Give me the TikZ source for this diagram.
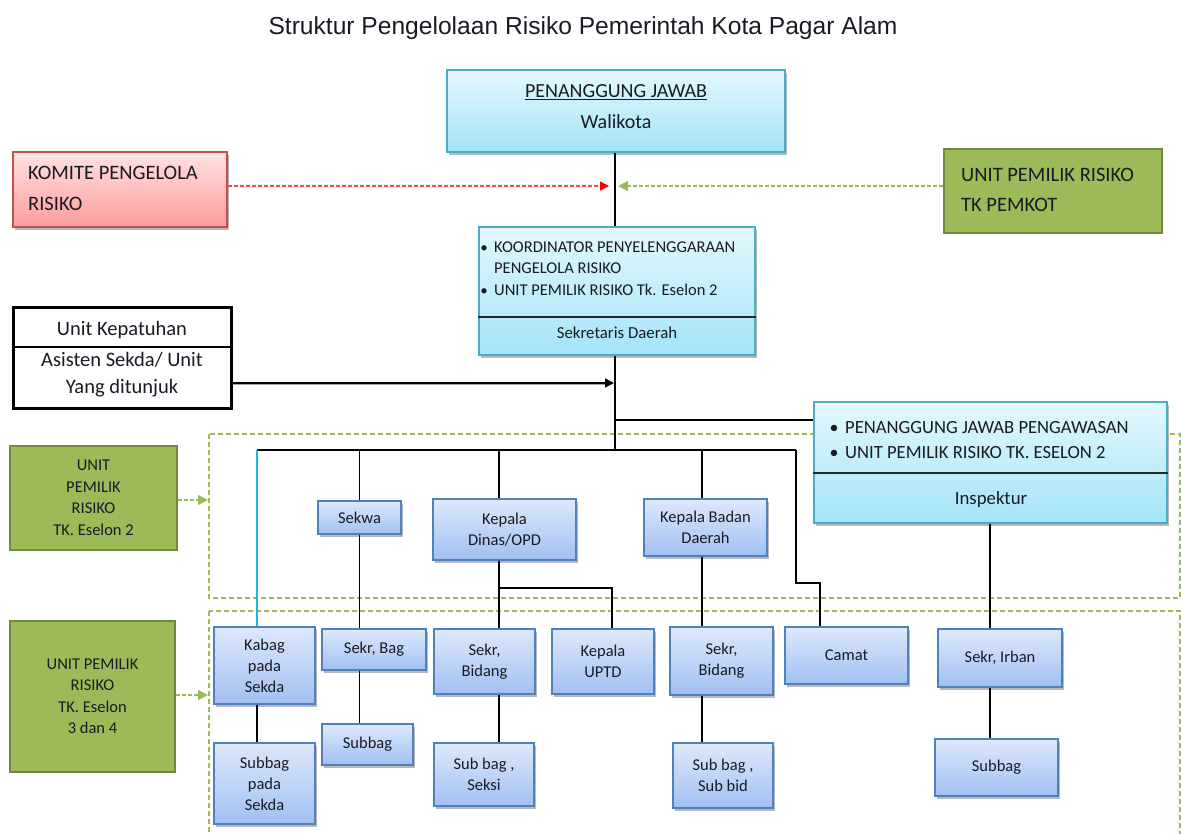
\documentclass[tikz,border=0pt]{standalone}
\usepackage{fontspec}
\setmainfont{Carlito}
\newfontfamily\titlefont{Liberation Sans}
\usetikzlibrary{arrows.meta,shadows}
\definecolor{bluetop}{HTML}{DDE9FC}
\definecolor{bluebot}{HTML}{A2BFF2}
\definecolor{blueline}{HTML}{4F81BD}
\definecolor{cyantop}{HTML}{E4F8FD}
\definecolor{cyanbot}{HTML}{A3E4F7}
\definecolor{cyanline}{HTML}{4BACC6}
\definecolor{redtop}{HTML}{FFE2E2}
\definecolor{redbot}{HTML}{FF9C9C}
\definecolor{redline}{HTML}{C0504D}
\definecolor{grfill}{HTML}{9BBB59}
\definecolor{grline}{HTML}{71893F}
\definecolor{grdash}{HTML}{9BBB59}
\definecolor{txt}{HTML}{1A1A24}
\definecolor{cyanconn}{HTML}{1FB4EE}
\newcommand\mybox[7]{\node[#2, minimum width={(#5-#3)*1pt}, minimum height={(#6-#4)*1pt}] (#1) at ({(#3+#5)/2},{(#4+#6)/2}) {#7};}
\begin{document}
\begin{tikzpicture}[x=1pt,y=-1pt,
  shadowed/.style={drop shadow={shadow xshift=2pt,shadow yshift=-2.5pt,opacity=0.28,fill=black}},
  bluebox/.style={draw=blueline, line width=1.4pt, top color=bluetop, bottom color=bluebot, shadowed, inner sep=0pt, align=center, text=txt, font=\fontsize{16.5}{21}\selectfont},
  cyanbox/.style={draw=cyanline, line width=1.4pt, top color=cyantop, bottom color=cyanbot, shadowed, inner sep=0pt},
  redbox/.style={draw=redline, line width=1.4pt, top color=redtop, bottom color=redbot, shadowed, inner sep=0pt},
  greenbox/.style={draw=grline, line width=2pt, fill=grfill, inner sep=0pt, align=center, text=txt, font=\fontsize{16.5}{21.5}\selectfont},
  plainbox/.style={draw=black, line width=3pt, fill=white, inner sep=0pt},
  lbl/.style={inner sep=0pt, text=txt},
  conn/.style={draw=black, line width=1.2pt},
  divider/.style={draw=black!85, line width=1.5pt},
  zone/.style={draw=grdash, line width=1.4pt, dash pattern=on 5pt off 3pt},
  redarrow/.style={draw={rgb,255:red,255;green,70;blue,70}, line width=1.4pt, dash pattern=on 4pt off 2pt, -{Triangle[length=9pt,width=9pt,fill=red,color=red]}},
  greenarrow/.style={draw=grdash, line width=1.4pt, dash pattern=on 4pt off 2pt, -{Triangle[length=10pt,width=10pt]}},
  blackarrow/.style={draw=black, line width=1.5pt, -{Triangle[length=9pt,width=9pt]}}
]
\useasboundingbox (0,0) rectangle (1181,833);

% title
\node[lbl, anchor=mid, font=\titlefont\fontsize{24.6}{28}\selectfont] (title) at (583,32) {Struktur Pengelolaan Risiko Pemerintah Kota Pagar Alam};

% green zones
\draw[zone] (209,434) rectangle (1180,598);
\draw[zone] (209,611) rectangle (1180,838);

% top boxes
\mybox{walikota}{cyanbox}{447}{70}{785}{152}{}
\node[lbl, anchor=mid, font=\fontsize{20}{24}\selectfont] (wk1) at (616,95) {\underline{PENANGGUNG JAWAB}};
\node[lbl, anchor=mid, font=\fontsize{20}{24}\selectfont] (wk2) at (616,126) {Walikota};

\mybox{komite}{redbox}{13}{152}{227}{227}{}
\node[lbl, anchor=mid west, font=\fontsize{20.5}{24}\selectfont] (km1) at (28,177) {KOMITE PENGELOLA};
\node[lbl, anchor=mid west, font=\fontsize{20.5}{24}\selectfont] (km2) at (28,208) {RISIKO};

\mybox{pemkot}{greenbox}{944}{149}{1162}{233}{}
\node[lbl, anchor=mid west, font=\fontsize{20.5}{24}\selectfont] (pk1) at (961,179) {UNIT PEMILIK RISIKO};
\node[lbl, anchor=mid west, font=\fontsize{20.5}{24}\selectfont] (pk2) at (961,209) {TK PEMKOT};

\mybox{koord}{cyanbox}{479}{227}{755}{355}{}
\draw[divider] (koord.west |- 0,317) -- (koord.east |- 0,317);
\node[lbl, anchor=mid, font=\fontsize{15}{18}\selectfont] (kb1) at (484,250) {•};
\node[lbl, anchor=mid west, font=\fontsize{16.5}{18}\selectfont] (kt1) at (494,250.5) {KOORDINATOR PENYELENGGARAAN};
\node[lbl, anchor=mid west, font=\fontsize{16.5}{18}\selectfont] (kt2) at (494,271.5) {PENGELOLA RISIKO};
\node[lbl, anchor=mid, font=\fontsize{15}{18}\selectfont] (kb2) at (484,293) {•};
\node[lbl, anchor=mid west, font=\fontsize{16.5}{18}\selectfont] (kt3) at (494,293.5) {UNIT PEMILIK RISIKO Tk. Eselon 2};
\node[lbl, anchor=mid, font=\fontsize{16.8}{18}\selectfont] (kt4) at (617,336) {Sekretaris Daerah};

\mybox{kepatuhan}{plainbox}{13}{307}{231}{408}{}
\draw[line width=1.5pt] (kepatuhan.west |- 0,347) -- (kepatuhan.east |- 0,347);
\node[lbl, anchor=mid, font=\fontsize{20.5}{24}\selectfont] (kp1) at (122,333) {Unit Kepatuhan};
\node[lbl, anchor=mid, font=\fontsize{20.5}{24}\selectfont] (kp2) at (122,364) {Asisten Sekda/ Unit};
\node[lbl, anchor=mid, font=\fontsize{20.5}{24}\selectfont] (kp3) at (122,391) {Yang ditunjuk};

\mybox{inspektur}{cyanbox}{814}{402}{1167}{523}{}
\draw[divider] (inspektur.west |- 0,473) -- (inspektur.east |- 0,473);
\node[lbl, anchor=mid, font=\fontsize{18}{20}\selectfont] (ib1) at (834,431) {•};
\node[lbl, anchor=mid west, font=\fontsize{18.6}{20}\selectfont] (it1) at (845,431) {PENANGGUNG JAWAB PENGAWASAN};
\node[lbl, anchor=mid, font=\fontsize{18}{20}\selectfont] (ib2) at (834,456) {•};
\node[lbl, anchor=mid west, font=\fontsize{18.6}{20}\selectfont] (it2) at (845,456) {UNIT PEMILIK RISIKO TK. ESELON 2};
\node[lbl, anchor=mid, font=\fontsize{18.8}{20}\selectfont] (it3) at (991,502) {Inspektur};

% left green labels
\mybox{eselon2}{greenbox}{10}{446}{177}{550}{UNIT\\PEMILIK\\RISIKO\\TK. Eselon 2}
\mybox{eselon34}{greenbox}{10}{621}{175}{772}{UNIT PEMILIK\\RISIKO\\TK. Eselon\\3 dan 4}

% blue boxes
\mybox{sekwa}{bluebox}{318}{501}{401}{534}{Sekwa}
\mybox{kadin}{bluebox}{433}{499}{576}{560}{Kepala\\Dinas/OPD}
\mybox{kabadan}{bluebox}{644}{499}{767}{556}{Kepala Badan\\Daerah}
\mybox{kabag}{bluebox}{214}{627}{315}{704}{Kabag\\pada\\Sekda}
\mybox{subsekda}{bluebox}{214}{743}{315}{824}{Subbag\\pada\\Sekda}
\mybox{sekrbag}{bluebox}{322}{629}{426}{670}{Sekr, Bag}
\mybox{subbag1}{bluebox}{322}{724}{413}{765}{Subbag}
\mybox{sekrbid1}{bluebox}{434}{629}{535}{694}{Sekr,\\Bidang}
\mybox{subseksi}{bluebox}{434}{743}{534}{806}{Sub bag ,\\Seksi}
\mybox{uptd}{bluebox}{552}{629}{654}{694}{Kepala\\UPTD}
\mybox{sekrbid2}{bluebox}{670}{627}{773}{695}{Sekr,\\Bidang}
\mybox{subbid}{bluebox}{673}{743}{773}{808}{Sub bag ,\\Sub bid}
\mybox{camat}{bluebox}{785}{627}{908}{684}{Camat}
\mybox{sekrirban}{bluebox}{938}{629}{1062}{687}{Sekr, Irban}
\mybox{subbag2}{bluebox}{935}{739}{1058}{796}{Subbag}

% coordinates
\coordinate (spine) at (615,0);
\coordinate (busL) at (257,450);
\coordinate (busR) at (796,450);
\coordinate (brI) at (615,420);
\coordinate (kd) at (499,450);
\coordinate (kdj) at (499,588);
\coordinate (uj) at (612,588);
\coordinate (kb) at (702,450);
\coordinate (cj1) at (796,583);
\coordinate (cj2) at (820,583);
\coordinate (redtip) at (609,186);
\coordinate (greentip) at (618,186);
\coordinate (blacktip) at (614,383);
\coordinate (e2tip) at (208,500);
\coordinate (e34tip) at (208,695);
\coordinate (insx) at (990,0);

% connectors
\draw[conn] (spine |- walikota.south) -- (spine |- koord.north);
\draw[conn] (spine |- koord.south) -- (spine |- busL);
\draw[conn] (brI) -- (brI -| inspektur.west);
\draw[conn] (busL) -- (busR);
\draw[draw=cyanconn, line width=1.4pt] (busL) -- (busL |- kabag.north);
\draw[conn] (kabag.south -| busL) -- (busL |- subsekda.north);
\draw[conn] (sekwa.north |- busL) -- (sekwa.north);
\draw[conn] (sekwa.south) -- (sekwa.south |- sekrbag.north);
\draw[conn] (sekwa.south |- sekrbag.south) -- (sekwa.south |- subbag1.north);
\draw[conn] (kd) -- (kd |- kadin.north);
\draw[conn] (kd |- kadin.south) -- (kd |- sekrbid1.north);
\draw[conn] (kdj) -- (uj) -- (uj |- uptd.north);
\draw[conn] (kd |- sekrbid1.south) -- (kd |- subseksi.north);
\draw[conn] (kb) -- (kb |- kabadan.north);
\draw[conn] (kb |- kabadan.south) -- (kb |- sekrbid2.north);
\draw[conn] (kb |- sekrbid2.south) -- (kb |- subbid.north);
\draw[conn] (busR) -- (cj1) -- (cj2) -- (cj2 |- camat.north);
\draw[conn] (insx |- inspektur.south) -- (insx |- sekrirban.north);
\draw[conn] (insx |- sekrirban.south) -- (insx |- subbag2.north);

% arrows
\draw[redarrow] (komite.east |- redtip) -- (redtip);
\draw[greenarrow] (pemkot.west |- greentip) -- (greentip);
\draw[black!35, line width=1pt] ([yshift=-1.6pt]kepatuhan.east |- blacktip) -- ([yshift=-1.6pt,xshift=-9pt]blacktip);
\draw[blackarrow] (kepatuhan.east |- blacktip) -- (blacktip);
\draw[greenarrow] (eselon2.east |- e2tip) -- (e2tip);
\draw[greenarrow] (eselon34.east |- e34tip) -- (e34tip);
\end{tikzpicture}
\end{document}
